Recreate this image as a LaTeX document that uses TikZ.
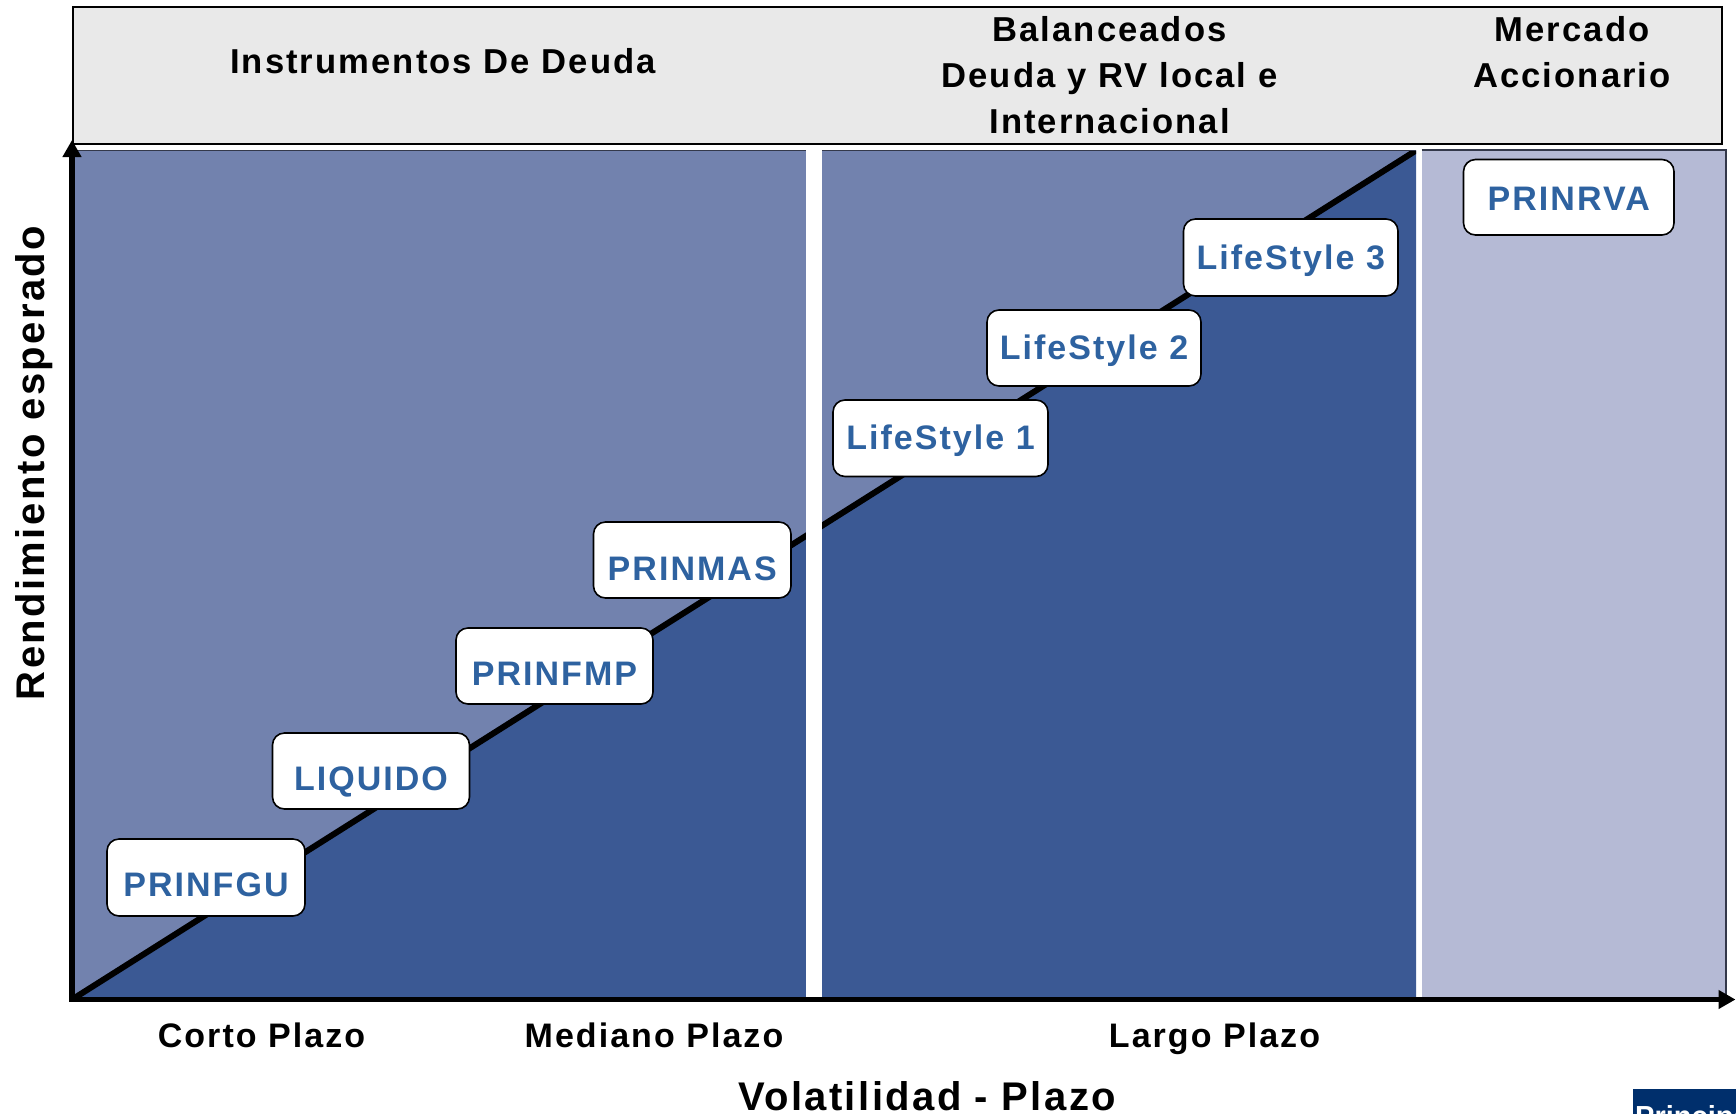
\documentclass[tikz,border=0pt]{standalone}
\usepackage{fontspec}
\setmainfont{Liberation Sans}[BoldFont={Liberation Sans Bold}]
\newfontfamily\spacedfont{Liberation Sans Bold}[LetterSpace=6]
\usetikzlibrary{arrows.meta}
\definecolor{panelLight}{HTML}{7282AE}
\definecolor{panelDark}{HTML}{3B5994}
\definecolor{panelPale}{HTML}{B5BAD5}
\definecolor{headGray}{HTML}{E9E9E9}
\definecolor{fundBlue}{HTML}{2E62A0}
\definecolor{logoBlue}{HTML}{002F6C}
\definecolor{edgeGray}{HTML}{33384A}
\tikzset{
  x=1pt,y=-1pt,
  headtext/.style={font=\spacedfont\fontsize{34.6}{38}\selectfont,text=black,inner sep=0pt,anchor=base},
  axistext/.style={font=\spacedfont\fontsize{34}{38}\selectfont,text=black,inner sep=0pt,anchor=base},
  bigtext/.style={font=\spacedfont\fontsize{40}{44}\selectfont,text=black,inner sep=0pt,anchor=base},
  fundbox/.style={draw=black,line width=1.6pt,fill=white,rounded corners=12pt,inner sep=0pt,
    font=\spacedfont\fontsize{34}{38}\selectfont,text=fundBlue,anchor=base},
  axisline/.style={line width=5.5pt,draw=black,-{Triangle[length=17pt,width=18pt]}},
  diagline/.style={line width=6pt,draw=black},
}
% name, left, top, right, bottom, baseline, text
\newcommand{\fundnode}[7]{%
  \pgfmathsetlengthmacro{\fw}{#4-#2}%
  \pgfmathsetlengthmacro{\fh}{#6-#3}%
  \pgfmathsetlengthmacro{\fd}{#5-#6}%
  \pgfmathsetmacro{\fc}{(#2+#4)/2}%
  \node[fundbox,minimum width=\fw,text height=\fh,text depth=\fd] (#1) at (\fc,#6) {#7};%
}
\begin{document}
\begin{tikzpicture}
\useasboundingbox (0,0) rectangle (1736,1114);
\fill[white] (0,0) rectangle (1736,1114);
% header band
\node[draw=black,line width=2pt,fill=headGray,minimum width=1649pt,minimum height=137pt,inner sep=0pt] (header) at (897,75.5) {};
% panels
\fill[panelLight] (72,150.5) rectangle (1416,999);
\coordinate (diagstart) at (72,999.5);
\coordinate (diagend) at (1416,150.5);
\fill[panelDark] (diagstart) -- (diagend) -- (1416,999.5) -- cycle;
\begin{scope}
  \clip (72,150.5) rectangle (1416,999.5);
  \draw[diagline] (diagstart) -- (diagend);
\end{scope}
\draw[edgeGray,line width=1pt] (72,150.5) -- (1416,150.5);
\fill[white] (806,148) rectangle (822,997);
\fill[panelPale] (1421.5,150) rectangle (1726,999);
\draw[edgeGray,line width=1.2pt] (1421.5,150) -- (1726,150) -- (1726,999);
% axes
\coordinate (origin) at (72,999.5);
\coordinate (ytip) at (72,140);
\coordinate (xtip) at (1735.5,999.5);
\draw[axisline] (origin) -- (ytip);
\draw[axisline] (69.25,999.5) -- (xtip);
% fund boxes
\fundnode{prinfgu}{107}{839}{305}{916}{896}{PRINFGU}
\fundnode{liquido}{272.5}{733}{469.5}{809}{790.5}{LIQUIDO}
\fundnode{prinfmp}{456}{628}{653}{704}{685}{PRINFMP}
\fundnode{prinmas}{593.5}{522}{791}{598}{580}{PRINMAS}
\fundnode{life1}{833}{400}{1048}{476.5}{449}{LifeStyle 1}
\fundnode{life2}{987}{310}{1201}{386}{359}{LifeStyle 2}
\fundnode{life3}{1183.5}{219}{1398}{296}{269}{LifeStyle 3}
\fundnode{prinrva}{1463.5}{159.5}{1674}{235}{210.5}{PRINRVA}
% header texts
\node[headtext] (tdeuda) at (443,73) {Instrumentos De Deuda};
\node[headtext] (tbal1) at (1109.5,41) {Balanceados};
\node[headtext] (tbal2) at (1109.5,87) {Deuda y RV local e};
\node[headtext] (tbal3) at (1109.5,133) {Internacional};
\node[headtext] (tmer1) at (1572,41) {Mercado};
\node[headtext] (tmer2) at (1572,87) {Accionario};
% axis texts
\node[axistext] (corto) at (261.5,1047) {Corto Plazo};
\node[axistext] (mediano) at (654,1047) {Mediano Plazo};
\node[axistext] (largo) at (1214.5,1047) {Largo Plazo};
\node[bigtext] (vol) at (927,1110) {Volatilidad - Plazo};
\node[bigtext,rotate=90] (rend) at (44,463) {Rendimiento esperado};
% logo
\begin{scope}
  \clip (1633,1089) rectangle (1736,1114);
  \fill[logoBlue] (1633,1089) rectangle (1736,1114);
  \node[font=\bfseries\fontsize{29}{30}\selectfont,text=white,inner sep=0pt,anchor=base west] (logo) at (1635,1126) {Principal};
\end{scope}
\end{tikzpicture}
\end{document}
